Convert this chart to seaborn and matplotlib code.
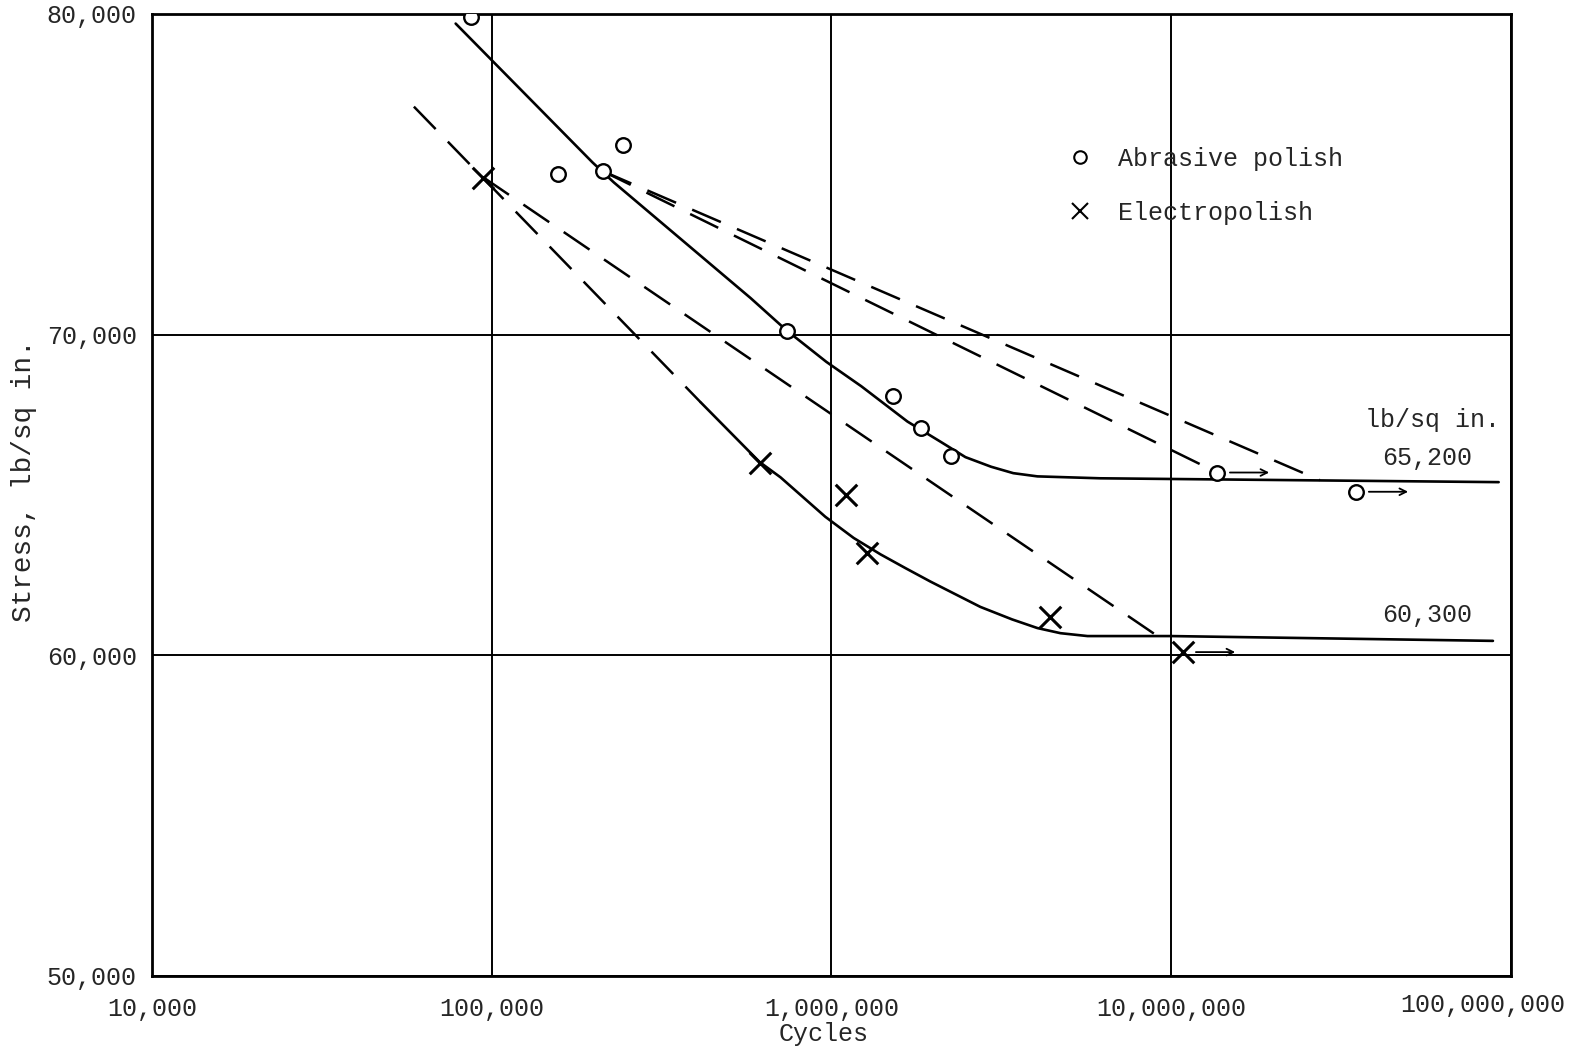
import numpy as np
import pandas as pd
import matplotlib
matplotlib.use("Agg")
import matplotlib.pyplot as plt
import matplotlib.transforms as mtransforms
from matplotlib.lines import Line2D
import seaborn as sns

# test points
abrasive_cycles = [86700, 157000, 212000, 243000, 738000, 1520000, 1830000, 2250000, 13650000, 35000000]
abrasive_stress = [79900, 75000, 75100, 75900, 70100, 68100, 67100, 66200, 65700, 65100]
abrasive_runout = [False, False, False, False, False, False, False, False, True, True]

electro_cycles = [94000, 614000, 1107000, 1276000, 4400000, 10840000]
electro_stress = [74900, 66000, 65000, 63200, 61200, 60100]
electro_runout = [False, False, False, False, False, True]

# faired S-N curves (solid)
abrasive_curve_cycles = [78300, 198000, 228600, 578000, 738000, 966000, 1224000, 1673000,
                         2094000, 2479000, 2950000, 3429000, 4036000, 6180000, 92000000]
abrasive_curve_stress = [79700, 75370, 74750, 71140, 70130, 69150, 68390, 67290,
                         66660, 66180, 65880, 65680, 65580, 65520, 65400]
electro_curve_cycles = [412000, 614000, 707900, 959000, 1162000, 1393000, 1650000, 1955000, 2742000,
                        3400000, 4036000, 4720000, 5670000, 10000000, 88500000]
electro_curve_stress = [67890, 66030, 65550, 64320, 63660, 63150, 62720, 62300, 61510,
                        61120, 60850, 60690, 60600, 60600, 60450]

# dashed scatter-band lines (start, end)
dashed_cycles = [[59000, 412000], [94300, 9290000], [212000, 13650000], [212000, 27400000]]
dashed_stress = [[77110, 67890], [74910, 60540], [75100, 65700], [75100, 65460]]

x_ticks = [1e4, 1e5, 1e6, 1e7, 1e8]
x_tick_labels = ["10,000", "100,000", "1,000,000", "10,000,000", "100,000,000"]
y_ticks = [50000, 60000, 70000, 80000]
y_tick_labels = ["50,000", "60,000", "70,000", "80,000"]

sns.set_theme(style="white")
plt.rcParams["font.family"] = ["Liberation Mono", "DejaVu Sans Mono"]
fs = 18

fig = plt.figure(figsize=(15.9, 10.5), dpi=100)
ax = fig.add_axes([0.0956, 0.0705, 0.8547, 0.9162])
ax.set_xscale("log")

for cx, cy in zip(dashed_cycles, dashed_stress):
    sns.lineplot(x=cx, y=cy, sort=False, estimator=None, color="black", lw=1.8,
                 linestyle=(0, (12.5, 7)), ax=ax)

sns.lineplot(x=abrasive_curve_cycles, y=abrasive_curve_stress, sort=False, estimator=None,
             color="black", lw=1.9, ax=ax)
sns.lineplot(x=electro_curve_cycles, y=electro_curve_stress, sort=False, estimator=None,
             color="black", lw=1.9, ax=ax)

abr = pd.DataFrame({"cycles": abrasive_cycles, "stress": abrasive_stress, "runout": abrasive_runout})
ele = pd.DataFrame({"cycles": electro_cycles, "stress": electro_stress, "runout": electro_runout})

sns.scatterplot(data=abr, x="cycles", y="stress", marker="o", s=110, facecolor="white",
                edgecolor="black", linewidth=1.7, zorder=5, ax=ax)
sns.scatterplot(data=ele, x="cycles", y="stress", marker="x", s=240, color="black",
                linewidth=2.2, zorder=5, ax=ax)

# run-out arrows (did not fail)
for df in (abr, ele):
    for _, r in df[df["runout"]].iterrows():
        ax.annotate("", xy=(r["cycles"] * 1.45, r["stress"]), xytext=(r["cycles"] * 1.07, r["stress"]),
                    arrowprops=dict(arrowstyle="->", color="black", lw=1.3), zorder=4)

ax.set_xlim(1e4, 1e8)
ax.set_ylim(50000, 80000)
ax.set_xticks(x_ticks)
ax.set_xticklabels(x_tick_labels)
ax.set_yticks(y_ticks)
ax.set_yticklabels(y_tick_labels)
ax.minorticks_off()
ax.tick_params(axis="x", length=0, pad=15, labelsize=fs)
ax.tick_params(axis="y", length=0, pad=11, labelsize=fs)
ax.grid(True, which="major", color="black", lw=1.4)
for s in ax.spines.values():
    s.set_color("black")
    s.set_linewidth(2.0)

# last x label sits a little left and higher, as on the original sheet
last = ax.get_xticklabels()[-1]
last.set_transform(last.get_transform() + mtransforms.ScaledTranslation(-20 / 72, 3 / 72, fig.dpi_scale_trans))

ax.set_xlabel("Cycles", fontsize=fs)
ax.set_ylabel("Stress, lb/sq in.", fontsize=20)
ax.xaxis.set_label_coords(0.494, -0.048)
ax.yaxis.set_label_coords(-0.0846, 0.515)

ax.text(0.942, 0.578, "lb/sq in.", transform=ax.transAxes, fontsize=fs, ha="center", va="center")
ax.text(0.938, 0.538, "65,200", transform=ax.transAxes, fontsize=fs, ha="center", va="center")
ax.text(0.938, 0.375, "60,300", transform=ax.transAxes, fontsize=fs, ha="center", va="center")

handles = [
    Line2D([], [], marker="o", ls="none", mfc="white", mec="black", mew=1.5, ms=9, label="Abrasive polish"),
    Line2D([], [], marker="x", ls="none", color="black", mew=1.5, ms=11, label="Electropolish"),
]
ax.legend(handles=handles, loc="upper left", bbox_to_anchor=(0.674, 0.862), frameon=False,
          fontsize=fs, handlelength=1.0, handletextpad=1.0, labelspacing=1.2, borderpad=0,
          borderaxespad=0)

fig.savefig("out.png", dpi=100)
